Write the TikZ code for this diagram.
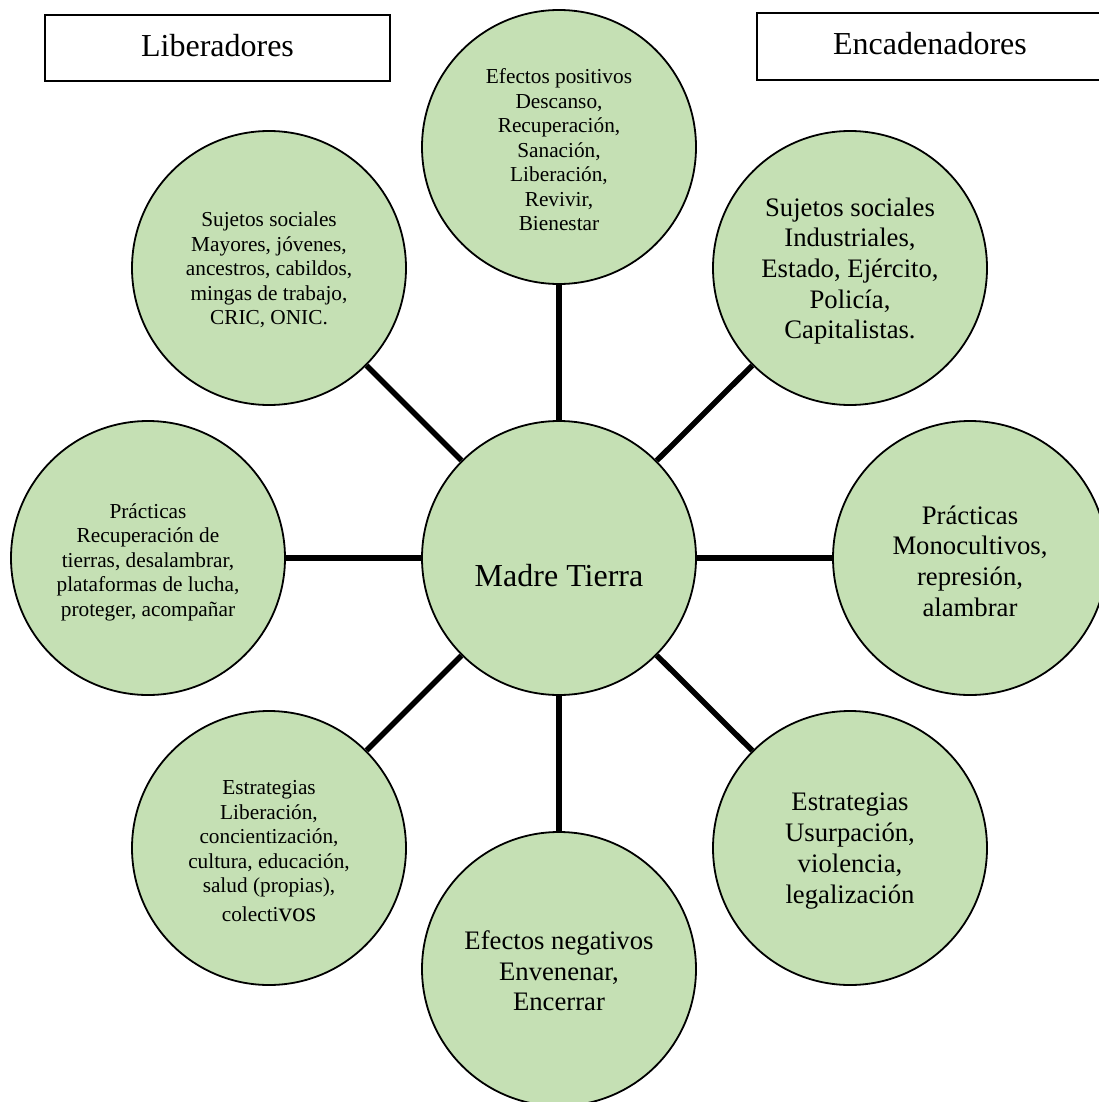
\documentclass[tikz,border=0pt]{standalone}
\usepackage{fontspec}
\setmainfont{Liberation Serif}
\definecolor{bubblegreen}{HTML}{C5E0B4}
\begin{document}
\begin{tikzpicture}[x=1pt,y=-1pt,
  bubble/.style={circle, draw=black, line width=1.8pt, fill=bubblegreen, minimum size=274pt, inner sep=0pt},
  spoke/.style={line width=5.5pt},
  smalltxt/.style={align=center, font=\fontsize{21.3}{24.5}\selectfont},
  largetxt/.style={align=center, font=\fontsize{26.7}{30.7}\selectfont},
  titletxt/.style={font=\fontsize{32}{36}\selectfont},
  labelbox/.style={draw=black, line width=1.5pt, inner sep=0pt}
]
\useasboundingbox (0,0) rectangle (1099,1102);
\fill[white] (0,0) rectangle (1099,1102);

% circles
\node[bubble] (mt) at (559,558) {};
\node[bubble] (top) at (559,147) {};
\node[bubble] (tl) at (269,268) {};
\node[bubble] (tr) at (850,268) {};
\node[bubble] (lf) at (148,558) {};
\node[bubble] (rt) at (970,558) {};
\node[bubble] (bl) at (269,848) {};
\node[bubble] (bt) at (559,969) {};
\node[bubble] (br) at (850,848) {};

% spokes
\draw[spoke] (mt) -- (top);
\draw[spoke] (mt) -- (tl);
\draw[spoke] (mt) -- (tr);
\draw[spoke] (mt) -- (lf);
\draw[spoke] (mt) -- (rt);
\draw[spoke] (mt) -- (bl);
\draw[spoke] (mt) -- (bt);
\draw[spoke] (mt) -- (br);

% title boxes
\node[labelbox, minimum width=345pt, minimum height=66pt] (libbox) at (217.5,48) {};
\node[titletxt] (lib) at (217.5,46) {Liberadores};
\node[labelbox, minimum width=350pt, minimum height=67pt] (encbox) at (932,46.5) {};
\node[titletxt] (enc) at (930,44) {Encadenadores};

% texts
\node[titletxt] (tmt) at (559,576) {Madre Tierra};
\node[smalltxt] (ttop) at (559,150) {Efectos positivos\\Descanso,\\Recuperación,\\Sanación,\\Liberación,\\Revivir,\\Bienestar};
\node[smalltxt] (ttl) at (269,270) {Sujetos sociales\\Mayores, jóvenes,\\ancestros, cabildos,\\mingas de trabajo,\\CRIC, ONIC.};
\node[largetxt] (ttr) at (850,271) {Sujetos sociales\\Industriales,\\Estado, Ejército,\\Policía,\\Capitalistas.};
\node[smalltxt] (tlf) at (148,562) {Prácticas\\Recuperación de\\tierras, desalambrar,\\plataformas de lucha,\\proteger, acompañar};
\node[largetxt] (trt) at (970,561) {Prácticas\\Monocultivos,\\represión,\\alambrar};
\node[smalltxt] (tbl) at (269,851) {Estrategias\\Liberación,\\concientización,\\cultura, educación,\\salud (propias),\\[4pt]colecti{\fontsize{27}{30}\selectfont vos}};
\node[largetxt] (tbt) at (559,971) {Efectos negativos\\Envenenar,\\Encerrar};
\node[largetxt] (tbr) at (850,851) {Estrategias\\Usurpación,\\violencia,\\legalización};
\end{tikzpicture}
\end{document}
